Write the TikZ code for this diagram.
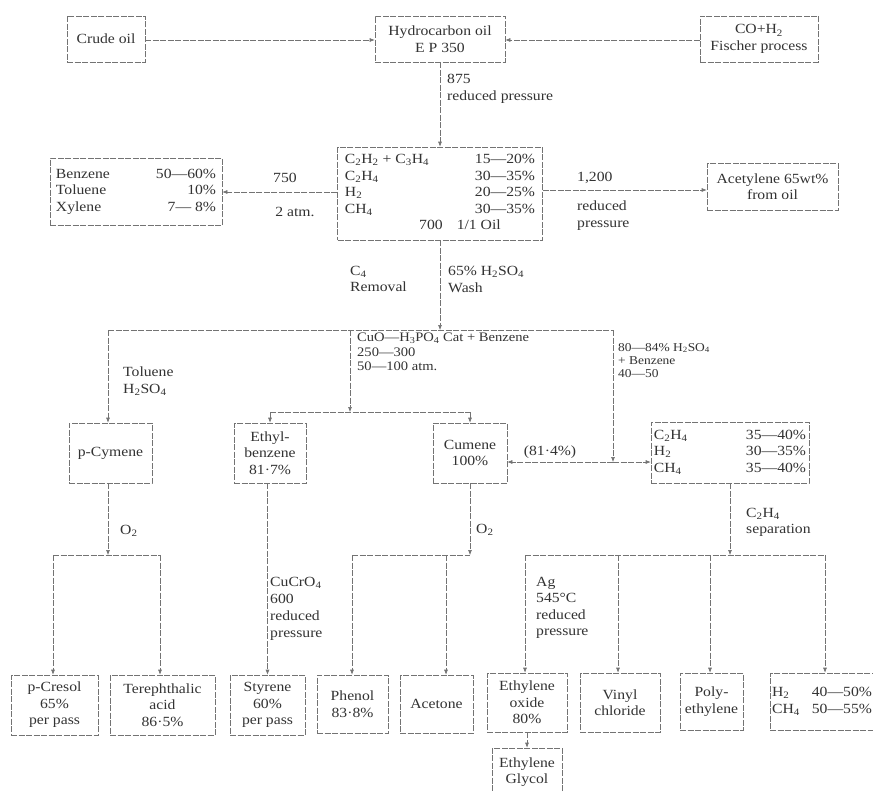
\documentclass[tikz,border=0pt]{standalone}
\usepackage{fontspec}
\setmainfont{Liberation Serif}[FakeStretch=1.12]
\usetikzlibrary{arrows.meta}
\newcommand{\chs}[1]{\textsubscript{#1}}
\begin{document}
\begin{tikzpicture}[x=1pt,y=-1pt,
  box/.style={draw=black!55, dash pattern=on 6pt off 1.5pt, line width=0.6pt, inner sep=0pt, align=center, text=black!80},
  conn/.style={draw=black!55, dash pattern=on 6pt off 1.5pt, line width=0.6pt},
  arr/.style={conn, -{Latex[length=5pt,width=4pt]}},
  lbl/.style={text=black!80, align=left, inner sep=0pt},
  font=\fontsize{14}{16.5}\selectfont]
\fill[white] (0,0) rectangle (873,792);
\useasboundingbox (0,0) rectangle (873,792);
% top row
\node[box, minimum width=78pt, minimum height=46pt] (crude) at (106,39) {Crude oil};
\node[box, minimum width=130pt, minimum height=46pt] (hoil) at (440,39) {Hydrocarbon oil\\E P 350};
\node[box, minimum width=118pt, minimum height=46pt] (co) at (759,39) {CO+H\chs{2}\\Fischer process};
% central
\node[box, minimum width=205pt, minimum height=93pt] (central) at (440,193.5) {%
\begin{tabular}{@{}p{118pt}l@{}}
C\chs{2}H\chs{2} + C\chs{3}H\chs{4} & 15---20\% \\
C\chs{2}H\chs{4} & 30---35\% \\
H\chs{2} & 20---25\% \\
CH\chs{4} & 30---35\% \\
\multicolumn{2}{@{}c@{}}{\hspace{40pt}700\quad 1/1 Oil}
\end{tabular}};
\node[box, minimum width=172pt, minimum height=67pt] (benz) at (136,191.5) {%
\begin{tabular}{@{}p{88pt}r@{}}
Benzene & 50---60\% \\
Toluene & 10\% \\
Xylene & 7--- 8\%
\end{tabular}};
\node[box, minimum width=131pt, minimum height=47pt] (acet) at (772.5,186.5) {Acetylene 65wt\%\\from oil};
% middle row
\node[box, minimum width=83pt, minimum height=60pt] (pcym) at (110.5,453) {p-Cymene};
\node[box, minimum width=72pt, minimum height=60pt] (ethb) at (270,453) {Ethyl-\\benzene\\81·7\%};
\node[box, minimum width=74pt, minimum height=60pt] (cum) at (470,453) {Cumene\\100\%};
\node[box, minimum width=158pt, minimum height=61pt] (c2h4) at (730,452.5) {%
\begin{tabular}{@{}p{80pt}l@{}}
C\chs{2}H\chs{4} & 35---40\% \\
H\chs{2} & 30---35\% \\
CH\chs{4} & 35---40\%
\end{tabular}};
% bottom row
\node[box, minimum width=87pt, minimum height=60pt] (pcres) at (54.5,705) {p-Cresol\\65\%\\per pass};
\node[box, minimum width=105pt, minimum height=60pt] (tere) at (162.5,705) {Terephthalic\\acid\\86·5\%};
\node[box, minimum width=75pt, minimum height=60pt] (styr) at (267.5,705) {Styrene\\60\%\\per pass};
\node[box, minimum width=71pt, minimum height=58pt] (phen) at (352.5,704) {Phenol\\83·8\%};
\node[box, minimum width=73pt, minimum height=58pt] (acetone) at (436.5,704) {Acetone};
\node[box, minimum width=80pt, minimum height=59pt] (eox) at (527,702.5) {Ethylene\\oxide\\80\%};
\node[box, minimum width=80pt, minimum height=59pt] (vinyl) at (620,702.5) {Vinyl\\chloride};
\node[box, minimum width=63pt, minimum height=57pt] (poly) at (711.5,701.5) {Poly-\\ethylene};
\node[box, minimum width=104pt, minimum height=57pt] (h2) at (822,701.5) {%
\begin{tabular}{@{}ll@{}}
H\chs{2} & 40---50\% \\
CH\chs{4} & 50---55\%
\end{tabular}};
\node[box, minimum width=70pt, minimum height=48pt] (glyc) at (527,772) {Ethylene\\Glycol};
% coordinates
\coordinate (bc) at (440,330);
\coordinate (b1) at (108,330);
\coordinate (b2) at (350,330);
\coordinate (b3) at (613,330);
\coordinate (s2) at (350,412);
\coordinate (s1) at (270,412);
\coordinate (s3) at (470,412);
\coordinate (j) at (613,462);
\coordinate (p0) at (108,555);
\coordinate (p1) at (53,555);
\coordinate (p2) at (160,555);
\coordinate (c0) at (470,555);
\coordinate (c1) at (352,555);
\coordinate (c2) at (446,555);
\coordinate (e0) at (730,555);
\coordinate (e1) at (525,555);
\coordinate (e2) at (618,555);
\coordinate (e3) at (710,555);
\coordinate (e4) at (825,555);
% connectors
\draw[arr] (crude.east |- 0,40) -- (hoil.west |- 0,40);
\draw[arr] (co.west |- 0,40) -- (hoil.east |- 0,40);
\draw[arr] (hoil.south) -- (central.north);
\draw[arr] (central.west |- 0,192) -- (benz.east |- 0,192);
\draw[arr] (central.east |- 0,190) -- (acet.west |- 0,190);
\draw[arr] (central.south) -- (bc);
\draw[conn] (b1) -- (b3);
\draw[arr] (b1) -- (b1 |- pcym.north);
\draw[arr] (b2) -- (s2);
\draw[conn] (s1) -- (s3);
\draw[arr] (s1) -- (s1 |- ethb.north);
\draw[arr] (s3) -- (s3 |- cum.north);
\draw[arr] (b3) -- (j);
\draw[arr] (j) -- (j -| cum.east);
\draw[arr] (j) -- (j -| c2h4.west);
\draw[arr] (pcym.south -| p0) -- (p0);
\draw[conn] (p1) -- (p2);
\draw[arr] (p1) -- (p1 |- pcres.north);
\draw[arr] (p2) -- (p2 |- tere.north);
\draw[arr] (ethb.south -| styr.north) -- (styr.north);
\draw[arr] (cum.south) -- (c0);
\draw[conn] (c1) -- (c0);
\draw[arr] (c1) -- (c1 |- phen.north);
\draw[arr] (c2) -- (c2 |- acetone.north);
\draw[arr] (c2h4.south) -- (e0);
\draw[conn] (e1) -- (e4);
\draw[arr] (e1) -- (e1 |- eox.north);
\draw[arr] (e2) -- (e2 |- vinyl.north);
\draw[arr] (e3) -- (e3 |- poly.north);
\draw[arr] (e4) -- (e4 |- h2.north);
\draw[arr] (eox.south) -- (glyc.north);
% labels
\node[lbl, anchor=north west] (l875) at (447,74) {875\\reduced pressure};
\node[lbl] (l750) at (285,178) {750};
\node[lbl] (l2atm) at (295,212) {2 atm.};
\node[lbl, anchor=west] (l1200) at (577,178) {1,200};
\node[lbl, anchor=north west] (lred) at (577,201) {reduced\\pressure};
\node[lbl, anchor=north west] (lc4) at (350,266) {C\chs{4}\\Removal};
\node[lbl, anchor=north west] (lwash) at (448,266) {65\% H\chs{2}SO\chs{4}\\Wash};
\node[lbl, anchor=north west] (ltol) at (123,367) {Toluene\\H\chs{2}SO\chs{4}};
\node[lbl, anchor=north west, font=\fontsize{13}{14.5}\selectfont] (lcat) at (357,333) {CuO---H\chs{3}PO\chs{4} Cat + Benzene\\250---300\\50---100 atm.};
\node[lbl, anchor=north west, font=\fontsize{12}{13}\selectfont] (lsulf) at (618,343) {80---84\% H\chs{2}SO\chs{4}\\+ Benzene\\40---50};
\node[lbl] (l814) at (550,452) {(81·4\%)};
\node[lbl, anchor=west] (lo2a) at (120,531) {O\chs{2}};
\node[lbl, anchor=west] (lo2b) at (476,530) {O\chs{2}};
\node[lbl, anchor=north west] (lsep) at (746,508) {C\chs{2}H\chs{4}\\separation};
\node[lbl, anchor=north west, font=\fontsize{14}{17}\selectfont] (lcucr) at (270,577) {CuCrO\chs{4}\\600\\reduced\\pressure};
\node[lbl, anchor=north west] (lag) at (536,577) {Ag\\545°C\\reduced\\pressure};
\end{tikzpicture}
\end{document}
